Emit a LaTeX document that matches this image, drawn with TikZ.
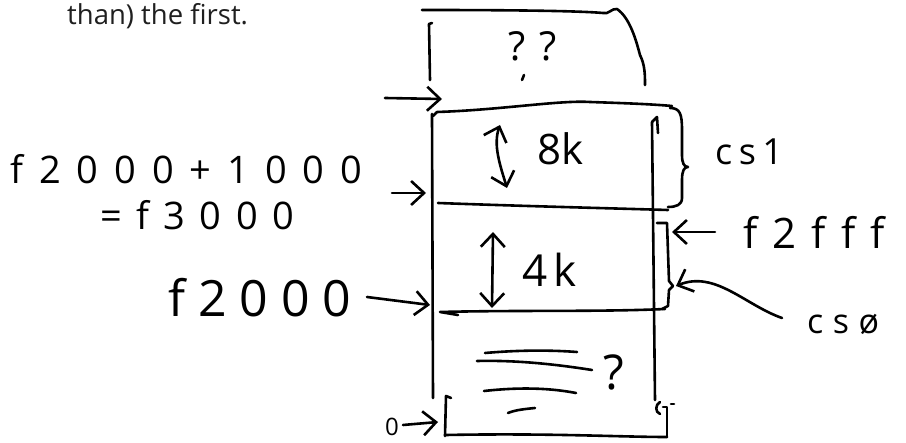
\documentclass[tikz,border=0pt]{standalone}
\usepackage{fontspec}
\setmainfont{Open Sans}
\newfontfamily\hand[Ligatures=NoCommon]{Open Sans}
\usetikzlibrary{arrows.meta}
\tikzset{
  pen/.style={line width=2.6pt, line cap=round, line join=round},
  barb/.tip={Straight Barb[length=13pt,width=24pt,line width=2.6pt]},
  arr/.style={pen, -barb},
  darr/.style={pen, barb-barb},
  hw/.style={inner sep=0pt, anchor=base west},
}
\newcommand{\hsz}[2]{\hand\fontsize{#1}{#1}\selectfont\addfontfeature{LetterSpace=#2}}
\begin{document}
\begin{tikzpicture}[x=1pt,y=-1pt]
\useasboundingbox (0,0) rectangle (906,443);

% intro text
\node[hw, font=\fontsize{27.5}{32}\selectfont, text=black!88] (intro) at (67,25) {than) the first.};

% top unknown box
\draw[pen] (422,10) .. controls (520,10) and (580,11) .. (603,13)
  .. controls (608,15) and (612,8) .. (617,9)
  .. controls (630,18) and (636,40) .. (640,55)
  .. controls (645,65) and (645,75) .. (645,85);
\draw[pen] (432,23) -- (429,24) -- (430,80);
\node[hw, font=\hsz{40}{35}] (qq) at (508,61) {??};
\draw[pen] (524,75) -- (522,80);

% main box
\draw[pen] (433,116) -- (437,112) .. controls (500,110) and (560,100) .. (590,102)
  .. controls (620,103) and (650,104) .. (672,106);
\draw[pen] (432,114) -- (433,398);
\draw[pen] (652,122) -- (655,400);
\draw[pen] (652,122) -- (657,117) -- (658,133);
\draw[pen] (438,203) .. controls (520,206) and (600,208) .. (668,210);
\draw[pen] (458,315) -- (440,312) .. controls (520,310) and (600,312) .. (665,309);
\draw[pen] (446,435) .. controls (550,433) and (620,437) .. (667,437);
\draw[pen] (451,398) -- (446,396) -- (445,436);
\draw[pen] (660,402) .. controls (655,405) and (655,412) .. (660,414);
\draw[pen] (663,407) -- (667,407) -- (667,437);
\draw[pen] (671,404) -- (674,404);

% 8k
\coordinate (u8) at (500,125);
\coordinate (d8) at (507,188);
\draw[darr] (u8) .. controls (493,145) and (500,165) .. (d8);
\node[hw, font=\hsz{42}{0}] (k8) at (537,165) {8k};

% 4k
\coordinate (u4) at (493,232);
\coordinate (d4) at (492,308);
\draw[darr] (u4) -- (d4);
\node[hw, font=\hsz{44}{15}] (k4) at (522,287) {4k};

% bottom unknown
\draw[pen] (485,353) .. controls (520,350) and (550,350) .. (577,352);
\draw[pen] (477,361) .. controls (520,360) and (560,365) .. (592,370);
\draw[pen] (484,391) .. controls (520,387) and (550,388) .. (576,393);
\draw[pen] (508,413) .. controls (515,410) and (525,409) .. (535,408);
\node[hw, font=\hsz{48}{0}] (qb) at (603,390) {?};

% cs1 brace
\draw[pen] (670,108) .. controls (680,108) and (682,114) .. (682,130) -- (682,155)
  .. controls (682,163) and (684,167) .. (688,167)
  .. controls (684,167) and (682,171) .. (682,180) -- (682,198)
  .. controls (682,205) and (676,207) .. (668,207);
\node[hw, font=\hsz{36}{18}] (cs1) at (715,165) {cs1};

% f2fff
\node[hw, font=\hsz{42}{36}] (f2fff) at (743,249) {f2fff};
\coordinate (f2s) at (715,232);
\coordinate (f2e) at (672,232);
\draw[arr] (f2s) -- (f2e);

% cs0 bracket
\draw[pen] (657,223) -- (667,223) -- (669,281) -- (673,286) -- (669,290) -- (668,306) -- (662,309);
\node[hw, font=\hsz{34}{28}] (cs0) at (807,334) {csø};
\coordinate (c0s) at (782,318);
\coordinate (c0e) at (676,286);
\draw[arr] (c0s) .. controls (745,305) and (715,270) .. (c0e);

% left labels
\node[hw, font=\hsz{38}{42}] (sum) at (10,184) {f2000+1000};
\node[hw, font=\hsz{38}{38}] (res) at (100,230) {=f3000};
\coordinate (r1s) at (392,193);
\coordinate (r1e) at (426,193);
\draw[arr] (r1s) -- (r1e);

\node[hw, font=\hsz{50}{26}] (f2k) at (168,317) {f2000};
\coordinate (f2ks) at (367,297);
\coordinate (f2ke) at (430,305);
\draw[arr] (f2ks) -- (f2ke);

\node[hw, font=\hsz{24}{0}] (zero) at (385,436) {0};
\coordinate (zs) at (403,425);
\coordinate (ze) at (438,422);
\draw[arr] (zs) -- (ze);

\coordinate (tas) at (385,98);
\coordinate (tae) at (442,99);
\draw[arr] (tas) -- (tae);
\end{tikzpicture}
\end{document}
